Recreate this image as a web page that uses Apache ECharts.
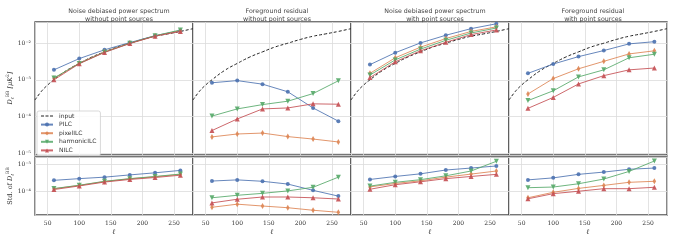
<!DOCTYPE html>
<html><head><meta charset="utf-8">
<script src="https://cdn.jsdelivr.net/npm/echarts@6/dist/echarts.min.js"></script>
<style>html,body{margin:0;padding:0;background:#fff}#c{width:674px;height:241px}</style>
</head><body><div id="c"></div>
<script>
// ---- data ----
const ells = [60, 100, 140, 180, 220, 260];
const inputEll = [30, 40, 50, 60, 80, 100, 120, 140, 160, 180, 200, 220, 240, 260, 280];
const inputVal = [2.8e-4, 4.8e-4, 7.2e-4, 1.0e-3, 1.8e-3, 2.8e-3, 4.2e-3, 5.8e-3, 7.9e-3, 1.0e-2, 1.27e-2, 1.55e-2, 1.8e-2, 2.1e-2, 2.5e-2];
const methods = ['PILC', 'pixelILC', 'harmonicILC', 'NILC'];
const panelTitles = [
  'Noise debiased power spectrum\nwithout point sources',
  'Foreground residual\nwithout point sources',
  'Noise debiased power spectrum\nwith point sources',
  'Foreground residual\nwith point sources'
];
const xTicks = [50, 100, 150, 200, 250];
// top row: D_ell^BB, order PILC, pixelILC, harmonicILC, NILC
const top1 = [
  [1.87e-3, 3.8e-3, 6.6e-3, 1.04e-2, 1.61e-2, 2.2e-2],
  [1.1e-3, 2.85e-3, 5.8e-3, 1.0e-2, 1.58e-2, 2.2e-2],
  [1.12e-3, 2.8e-3, 5.7e-3, 1.0e-2, 1.6e-2, 2.3e-2],
  [1.0e-3, 2.75e-3, 5.6e-3, 0.98e-2, 1.56e-2, 2.1e-2]
];
const top2 = [
  [8.3e-4, 9.5e-4, 7.6e-4, 4.7e-4, 1.7e-4, 7.4e-5],
  [2.75e-5, 3.3e-5, 3.5e-5, 2.8e-5, 2.4e-5, 2.0e-5],
  [1.02e-4, 1.6e-4, 2.1e-4, 2.6e-4, 4.2e-4, 9.4e-4],
  [4.1e-5, 8.5e-5, 1.6e-4, 1.7e-4, 2.2e-4, 2.15e-4]
];
const top3 = [
  [2.6e-3, 5.5e-3, 1.02e-2, 1.65e-2, 2.5e-2, 3.4e-2],
  [1.5e-3, 4.0e-3, 7.8e-3, 1.34e-2, 2.1e-2, 2.8e-2],
  [1.35e-3, 3.5e-3, 6.9e-3, 1.2e-2, 1.9e-2, 2.6e-2],
  [1.15e-3, 3.1e-3, 6.2e-3, 1.06e-2, 1.72e-2, 2.3e-2]
];
const top4 = [
  [1.5e-3, 2.7e-3, 4.3e-3, 6.3e-3, 9.6e-3, 1.1e-2],
  [4.1e-4, 1.08e-3, 2.0e-3, 3.2e-3, 5.1e-3, 6.2e-3],
  [2.7e-4, 5.0e-4, 1.2e-3, 1.87e-3, 4.0e-3, 5.0e-3],
  [1.66e-4, 3.3e-4, 7.7e-4, 1.3e-3, 1.87e-3, 2.1e-3]
];
// bottom row: Std. of D_ell^BB
const std1 = [
  [2.6e-4, 3.0e-4, 3.4e-4, 4.1e-4, 4.9e-4, 6.0e-4],
  [1.28e-4, 1.7e-4, 2.35e-4, 2.95e-4, 3.5e-4, 4.3e-4],
  [1.3e-4, 1.72e-4, 2.4e-4, 3.0e-4, 3.6e-4, 4.4e-4],
  [1.2e-4, 1.62e-4, 2.25e-4, 2.8e-4, 3.3e-4, 4.0e-4]
];
const std2 = [
  [2.45e-4, 2.7e-4, 2.4e-4, 1.9e-4, 1.12e-4, 6.9e-5],
  [2.7e-5, 3.5e-5, 3.0e-5, 2.6e-5, 2.1e-5, 1.77e-5],
  [6.0e-5, 7.4e-5, 8.7e-5, 1.07e-4, 1.45e-4, 3.4e-4],
  [3.9e-5, 5.3e-5, 6.4e-5, 6.4e-5, 6.0e-5, 5.4e-5]
];
const std3 = [
  [2.8e-4, 3.6e-4, 4.5e-4, 6.2e-4, 7.3e-4, 8.7e-4],
  [1.5e-4, 2.0e-4, 2.5e-4, 3.4e-4, 4.4e-4, 5.7e-4],
  [1.6e-4, 2.2e-4, 2.75e-4, 3.8e-4, 5.7e-4, 1.29e-3],
  [1.23e-4, 1.8e-4, 2.3e-4, 3.0e-4, 3.6e-4, 4.3e-4]
];
const std4 = [
  [2.7e-4, 3.2e-4, 4.3e-4, 5.2e-4, 6.6e-4, 7.3e-4],
  [6.0e-5, 9.5e-5, 1.32e-4, 1.7e-4, 2.2e-4, 2.4e-4],
  [1.4e-4, 1.48e-4, 1.95e-4, 2.9e-4, 5.5e-4, 1.32e-3],
  [5.5e-5, 8.5e-5, 1.04e-4, 1.29e-4, 1.29e-4, 1.45e-4]
];

// ---- styling ----
const colors = ['#4C72B0', '#DD8452', '#55A868', '#C44E52'];
const symbols = ['circle', 'diamond', 'triangle', 'triangle'];
const symbolRot = [0, 0, 180, 0];
const symbolSizes = [4, [3.5, 6], 5, 5];
const topRows = [top1, top2, top3, top4];
const stdRows = [std1, std2, std3, std4];

const panelLeft = [35, 193, 351, 509];
const panelW = 158;
const topY = 22, topH = 133, botY = 157, botH = 58;
const topMin = 8.8e-6, topMax = 0.038, botMin = 1.41e-5, botMax = 1.85e-3;

const supMap = {'-': '\u207B', '0': '\u2070', '1': '\u00B9', '2': '\u00B2', '3': '\u00B3', '4': '\u2074', '5': '\u2075', '6': '\u2076'};
function powLabel(v) {
  const l = Math.log10(v);
  const r = Math.round(l);
  if (Math.abs(l - r) > 1e-6) return '';
  return '10' + String(r).split('').map(c => supMap[c]).join('');
}

const grids = [], xAxes = [], yAxes = [], series = [], titles = [];
for (let row = 0; row < 2; row++) {
  for (let p = 0; p < 4; p++) {
    const gi = row * 4 + p;
    grids.push({
      left: panelLeft[p], width: panelW,
      top: row === 0 ? topY : botY, height: row === 0 ? topH : botH,
      show: true, borderColor: '#4a4a4a', borderWidth: 1.3, containLabel: false
    });
    xAxes.push({
      type: 'value', gridIndex: gi, min: 30, max: 280,
      axisLine: {show: false}, axisTick: {show: false},
      splitLine: {show: true, lineStyle: {color: '#dcdcdc', width: 0.8}},
      axisLabel: {
        show: row === 1, fontSize: 6, color: '#333', fontFamily: 'DejaVu Serif', margin: 5,
        formatter: v => (xTicks.indexOf(v) >= 0 ? String(v) : '')
      },
      name: row === 1 ? 'ℓ' : '', nameLocation: 'middle', nameGap: 14,
      nameTextStyle: {fontSize: 7, fontStyle: 'italic', fontFamily: 'DejaVu Serif', color: '#333'}
    });
    yAxes.push({
      type: 'log', logBase: 10, gridIndex: gi,
      min: row === 0 ? topMin : botMin, max: row === 0 ? topMax : botMax,
      axisLine: {show: false}, axisTick: {show: false},
      splitLine: {show: true, lineStyle: {color: '#dcdcdc', width: 0.8}},
      axisLabel: {
        show: p === 0, fontSize: 6, color: '#333', fontFamily: 'DejaVu Serif', margin: 4,
        formatter: powLabel
      }
    });
    if (row === 0) {
      titles.push({
        text: panelTitles[p], left: panelLeft[p] + panelW / 2, top: 3, textAlign: 'center',
        textStyle: {fontSize: 6.3, fontWeight: 'normal', color: '#444', fontFamily: 'DejaVu Sans', lineHeight: 7.5}
      });
      series.push({
        name: 'input', type: 'line', xAxisIndex: gi, yAxisIndex: gi,
        data: inputEll.map((e, i) => [e, inputVal[i]]),
        smooth: true, showSymbol: false, symbol: 'none', z: 1,
        lineStyle: {color: '#222', width: 1, type: [3, 2]}, itemStyle: {color: '#222'}
      });
    }
    const vals = row === 0 ? topRows[p] : stdRows[p];
    methods.forEach((m, k) => {
      series.push({
        name: m, type: 'line', xAxisIndex: gi, yAxisIndex: gi,
        data: ells.map((e, i) => [e, vals[k][i]]),
        symbol: symbols[k], symbolSize: symbolSizes[k], symbolRotate: symbolRot[k],
        showSymbol: true, z: 2,
        lineStyle: {color: colors[k], width: 1, opacity: 0.85},
        itemStyle: {color: colors[k], opacity: 0.9}
      });
    });
  }
}

const dashIcon = 'path://M0,0h3v1h-3z M4.5,0h3v1h-3z M9,0h3v1h-3z';
const option = {
  animation: false,
  backgroundColor: '#fff',
  title: titles,
  grid: grids, xAxis: xAxes, yAxis: yAxes, series: series,
  legend: {
    data: [{name: 'input', icon: dashIcon}, 'PILC', 'pixelILC', 'harmonicILC', 'NILC'],
    orient: 'vertical', left: 37, top: 111,
    itemWidth: 12, itemHeight: 5, itemGap: 2.6,
    padding: [2, 4, 2, 3],
    backgroundColor: 'rgba(255,255,255,0.85)', borderColor: '#cfcfcf', borderWidth: 0.8, borderRadius: 2,
    textStyle: {fontSize: 6, color: '#333', fontFamily: 'DejaVu Sans', padding: [0, 0, 0, 1]}
  },
  graphic: [
    {
      type: 'text', x: 10, y: 88, rotation: Math.PI / 2,
      style: {
        text: '{m|D}{s|ℓ}{u|BB}{m| [μK}{u|2}{m|]}', align: 'center', verticalAlign: 'middle',
        fill: '#333',
        rich: {
          m: {fontSize: 6.5, fontFamily: 'DejaVu Serif', fontStyle: 'italic', fill: '#333', lineHeight: 10},
          s: {fontSize: 4.5, fontFamily: 'DejaVu Serif', fontStyle: 'italic', fill: '#333', verticalAlign: 'bottom', lineHeight: 10},
          u: {fontSize: 4.5, fontFamily: 'DejaVu Serif', fill: '#333', verticalAlign: 'top', lineHeight: 10}
        }
      }
    },
    {
      type: 'text', x: 10, y: 186, rotation: Math.PI / 2,
      style: {
        text: '{m|Std. of }{d|D}{s|ℓ}{u|BB}', align: 'center', verticalAlign: 'middle',
        fill: '#333',
        rich: {
          m: {fontSize: 6.5, fontFamily: 'DejaVu Serif', fill: '#333', lineHeight: 10},
          d: {fontSize: 6.5, fontFamily: 'DejaVu Serif', fontStyle: 'italic', fill: '#333', lineHeight: 10},
          s: {fontSize: 4.5, fontFamily: 'DejaVu Serif', fontStyle: 'italic', fill: '#333', verticalAlign: 'bottom', lineHeight: 10},
          u: {fontSize: 4.5, fontFamily: 'DejaVu Serif', fill: '#333', verticalAlign: 'top', lineHeight: 10}
        }
      }
    }
  ]
};
const chart = echarts.init(document.getElementById('c'), null, {renderer: 'canvas'});
chart.setOption(option);
</script>
</body></html>
